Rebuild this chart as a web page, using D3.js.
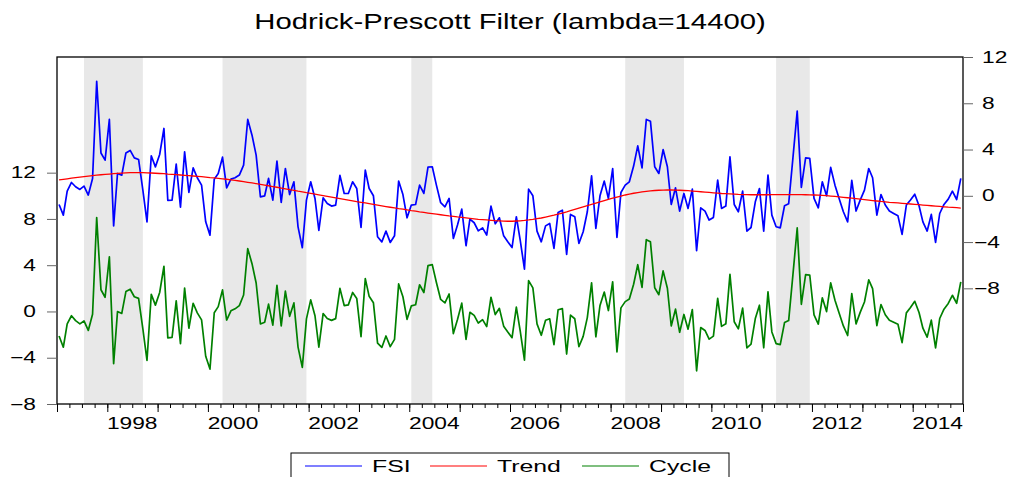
<!DOCTYPE html>
<html>
<head>
<meta charset="utf-8">
<script src="https://cdn.jsdelivr.net/npm/d3@7"></script>
<style>
  body { margin: 0; background: #fff; }
  text { font-family: "Liberation Sans", Arial, sans-serif; fill: #000; }
</style>
</head>
<body>
<svg width="1010" height="477"></svg>
<script>
// monthly observations, 1997M01 - 2014M12 (one row per year)
const fsi = [
  -0.75,-1.67,0.4,1.15,0.78,0.55,0.84,0.06,1.5,9.9,3.7,3.08,
  6.6,-2.6,1.93,1.79,3.7,3.92,3.28,3.14,0.49,-2.25,3.46,2.5,
  3.57,5.82,-0.4,-0.38,2.74,-0.98,3.8,0.29,2.42,1.56,0.92,-2.25,
  -3.4,1.44,1.93,3.34,0.69,1.44,1.56,1.79,2.65,6.6,5.24,3.51,
  -0.09,0.0,1.5,-0.38,3.0,-0.58,2.36,0.11,1.21,-2.68,-4.49,-0.37,
  1.21,-0.23,-3.0,-0.17,-0.66,-0.89,-0.8,1.76,0.2,0.2,1.21,0.63,
  -2.74,2.22,0.63,0.0,-3.54,-3.98,-3.05,-4.03,-3.46,1.27,0.11,-1.9,
  -0.8,-0.75,0.92,0.2,2.48,2.51,0.92,-0.6,-0.95,-0.23,-3.69,-2.53,
  -1.15,-4.32,-2.02,-2.33,-3.03,-2.77,-3.4,-0.89,-2.42,-1.9,-3.46,-3.98,
  -4.47,-1.81,-3.83,-6.34,0.58,0.0,-3.05,-3.98,-2.6,-2.39,-4.55,-1.44,
  -1.24,-5.07,-1.61,-1.81,-4.12,-3.11,-1.38,1.73,-2.82,0.0,1.27,-0.23,
  2.36,-3.6,0.29,0.92,1.21,2.57,4.32,2.42,6.6,6.45,2.51,1.93,
  4.0,2.51,-0.75,0.69,-1.32,0.2,-1.09,0.58,-4.75,-1.04,-1.32,-2.1,
  -1.87,1.36,-1.09,-0.89,3.37,-0.75,-1.38,0.4,-3.05,-2.74,-0.52,0.63,
  -3.05,1.79,-1.67,-2.68,-2.77,-0.86,-0.69,3.28,7.32,0.72,3.28,3.23,
  -0.23,-1.04,1.21,0.0,2.45,0.92,-0.23,-1.38,-2.25,1.33,-1.32,-0.37,
  0.49,2.36,1.56,-1.67,0.11,-0.8,-1.32,-1.53,-1.73,-3.34,-0.8,-0.37,
  0.14,-0.86,-2.25,-3.05,-1.61,-4.03,-1.53,-0.75,-0.29,0.4,-0.32,1.5
];

const trend = [
  1.37,1.42,1.47,1.52,1.57,1.62,1.66,1.70,1.74,1.78,1.82,1.85,
  1.88,1.91,1.94,1.96,1.98,2.00,2.01,2.01,2.00,1.99,1.97,1.95,
  1.93,1.91,1.88,1.86,1.83,1.80,1.77,1.74,1.71,1.68,1.65,1.62,
  1.58,1.55,1.51,1.47,1.43,1.38,1.33,1.28,1.23,1.17,1.11,1.05,
  0.99,0.93,0.87,0.80,0.74,0.67,0.60,0.53,0.47,0.40,0.34,0.27,
  0.21,0.14,0.08,0.01,-0.05,-0.12,-0.18,-0.24,-0.31,-0.37,-0.43,-0.50,
  -0.56,-0.62,-0.68,-0.75,-0.81,-0.87,-0.93,-0.99,-1.05,-1.11,-1.16,-1.22,
  -1.28,-1.33,-1.39,-1.44,-1.49,-1.54,-1.59,-1.64,-1.69,-1.74,-1.78,-1.83,
  -1.87,-1.91,-1.95,-1.99,-2.03,-2.06,-2.09,-2.12,-2.15,-2.17,-2.19,-2.20,
  -2.20,-2.18,-2.16,-2.13,-2.09,-2.04,-1.98,-1.92,-1.84,-1.76,-1.68,-1.59,
  -1.49,-1.39,-1.29,-1.18,-1.07,-0.96,-0.85,-0.74,-0.63,-0.52,-0.41,-0.31,
  -0.21,-0.11,-0.02,0.07,0.14,0.22,0.28,0.34,0.39,0.43,0.46,0.48,
  0.49,0.50,0.50,0.49,0.48,0.46,0.44,0.41,0.38,0.35,0.32,0.29,
  0.26,0.23,0.20,0.18,0.16,0.14,0.12,0.11,0.10,0.09,0.09,0.09,
  0.09,0.09,0.10,0.10,0.10,0.10,0.10,0.10,0.10,0.10,0.09,0.08,
  0.07,0.05,0.03,0.01,-0.02,-0.05,-0.09,-0.13,-0.17,-0.21,-0.25,-0.29,
  -0.33,-0.37,-0.41,-0.45,-0.49,-0.52,-0.56,-0.59,-0.62,-0.65,-0.68,-0.71,
  -0.74,-0.77,-0.80,-0.83,-0.86,-0.89,-0.92,-0.95,-0.98,-1.00,-1.03,-1.06
];

const cycle = [
  -2.12,-3.09,-1.07,-0.37,-0.79,-1.07,-0.82,-1.64,-0.24,8.12,1.88,1.23,
  4.72,-4.51,-0.01,-0.17,1.72,1.92,1.27,1.13,-1.51,-4.24,1.49,0.55,
  1.64,3.91,-2.28,-2.24,0.91,-2.78,2.03,-1.45,0.71,-0.12,-0.73,-3.87,
  -4.98,-0.11,0.42,1.87,-0.74,0.06,0.23,0.51,1.42,5.43,4.13,2.46,
  -1.08,-0.93,0.63,-1.18,2.26,-1.25,1.76,-0.42,0.74,-3.08,-4.83,-0.64,
  1.0,-0.37,-3.08,-0.18,-0.61,-0.77,-0.62,2.0,0.51,0.57,1.64,1.13,
  -2.18,2.84,1.31,0.75,-2.73,-3.11,-2.12,-3.04,-2.41,2.38,1.27,-0.68,
  0.48,0.58,2.31,1.64,3.97,4.05,2.51,1.04,0.74,1.51,-1.91,-0.70,
  0.72,-2.41,-0.07,-0.34,-1.0,-0.71,-1.31,1.23,-0.27,0.27,-1.27,-1.78,
  -2.27,0.37,-1.67,-4.21,2.67,2.04,-1.07,-2.06,-0.76,-0.63,-2.87,0.15,
  0.25,-3.68,-0.32,-0.63,-3.05,-2.15,-0.53,2.47,-2.19,0.52,1.68,0.08,
  2.57,-3.49,0.31,0.85,1.07,2.35,4.04,2.08,6.21,6.02,2.05,1.45,
  3.51,2.01,-1.25,0.20,-1.80,-0.26,-1.53,0.17,-5.13,-1.39,-1.64,-2.39,
  -2.13,1.13,-1.29,-1.07,3.21,-0.89,-1.50,0.29,-3.15,-2.83,-0.61,0.54,
  -3.14,1.70,-1.77,-2.78,-2.87,-0.96,-0.79,3.18,7.22,0.62,3.19,3.15,
  -0.30,-1.09,1.18,-0.01,2.47,0.97,-0.14,-1.25,-2.08,1.54,-1.07,-0.08,
  0.82,2.73,1.97,-1.22,0.60,-0.28,-0.76,-0.94,-1.11,-2.69,-0.12,0.34,
  0.88,-0.09,-1.45,-2.22,-0.75,-3.14,-0.61,0.20,0.69,1.40,0.71,2.56
];

// shaded periods (first and last month)
const shadeStart = ["1997-07", "2000-04", "2004-01", "2008-04", "2011-04"];
const shadeEnd   = ["1998-09", "2001-12", "2004-06", "2009-06", "2011-12"];

const leftTicks  = [-8, -4, 0, 4, 8, 12];
const rightTicks = [-8, -4, 0, 4, 8, 12];
const yearLabels = [1998, 2000, 2002, 2004, 2006, 2008, 2010, 2012, 2014];
const seriesNames  = ["FSI", "Trend", "Cycle"];
const seriesColors = ["#0000ff", "#ff0000", "#008000"];

const svg = d3.select('svg');
const plot = {left: 57, right: 963, top: 57, bottom: 404};

const months = d3.utcMonth.range(new Date(Date.UTC(1997, 0, 1)), new Date(Date.UTC(2015, 0, 1)));
const mid = d => new Date(Date.UTC(d.getUTCFullYear(), d.getUTCMonth(), 16));
const parseM = d3.utcParse('%Y-%m');

const xScale = d3.scaleUtc()
  .domain([months[0], new Date(Date.UTC(2015, 0, 1))])
  .range([plot.left, plot.right]);

// left axis -> Cycle, right axis -> FSI & Trend
const yLeft = d3.scaleLinear().domain([-8, 22]).range([plot.bottom, plot.top]);
const yRight = d3.scaleLinear().domain([-18, 12]).range([plot.bottom, plot.top]);

function stretch(sel, k) {
  sel.each(function() {
    const w = this.getComputedTextLength();
    d3.select(this).attr('textLength', w * k).attr('lengthAdjust', 'spacingAndGlyphs');
  });
}

// shading
svg.append('g').selectAll('rect').data(shadeStart)
  .enter().append('rect')
  .attr('x', (d, i) => xScale(mid(parseM(d))))
  .attr('width', (d, i) => xScale(mid(parseM(shadeEnd[i]))) - xScale(mid(parseM(d))))
  .attr('y', plot.top)
  .attr('height', plot.bottom - plot.top)
  .style('fill', '#e8e8e8');

// lines
const lineR = d3.line().x((d, i) => xScale(mid(months[i]))).y(d => yRight(d));
const lineL = d3.line().x((d, i) => xScale(mid(months[i]))).y(d => yLeft(d));

svg.append('path').datum(fsi).attr('d', lineR)
  .style('fill', 'none').style('stroke', seriesColors[0]).style('stroke-width', 1.7).style('stroke-linejoin', 'round');
svg.append('path').datum(trend).attr('d', lineR)
  .style('fill', 'none').style('stroke', seriesColors[1]).style('stroke-width', 1.3);
svg.append('path').datum(cycle).attr('d', lineL)
  .style('fill', 'none').style('stroke', seriesColors[2]).style('stroke-width', 1.7).style('stroke-linejoin', 'round');

// frame
svg.append('rect')
  .attr('x', plot.left).attr('y', plot.top)
  .attr('width', plot.right - plot.left).attr('height', plot.bottom - plot.top)
  .style('fill', 'none').style('stroke', '#000').style('stroke-width', 1.3);

// y axes
const gl = svg.append('g').attr('transform', `translate(${plot.left},0)`)
  .call(d3.axisLeft(yLeft).tickValues(leftTicks).tickSize(10).tickPadding(11).tickFormat(d3.format('d')));
const gr = svg.append('g').attr('transform', `translate(${plot.right},0)`)
  .call(d3.axisRight(yRight).tickValues(rightTicks).tickSize(10).tickPadding(9).tickFormat(d3.format('d')));
[gl, gr].forEach(g => {
  g.select('.domain').remove();
  g.selectAll('line').style('stroke', '#666');
  g.selectAll('text').style('font-size', '16px').attr('font-family', null);
  stretch(g.selectAll('text'), 1.42);
});
gr.selectAll('text').attr('x', d => d < 0 ? 11 : 19);

// x axis
const gx = svg.append('g').attr('transform', `translate(0,${plot.bottom})`);
gx.append('g')
  .call(d3.axisBottom(xScale).ticks(d3.utcMonth.every(3)).tickSize(4).tickFormat(''))
  .select('.domain').remove();
gx.append('g')
  .call(d3.axisBottom(xScale).ticks(d3.utcYear.every(1)).tickSize(8).tickFormat(''))
  .select('.domain').remove();
gx.selectAll('line').style('stroke', '#000');

const xl = gx.selectAll('text.year').data(yearLabels)
  .enter().append('text')
  .attr('class', 'year')
  .attr('x', d => xScale(new Date(Date.UTC(d, 6, 1))))
  .attr('y', 25)
  .attr('text-anchor', 'middle')
  .style('font-size', '16px')
  .text(d => d);
stretch(xl, 1.42);

// title
const title = svg.append('text')
  .attr('x', 510).attr('y', 29)
  .attr('text-anchor', 'middle')
  .style('font-size', '22px')
  .text('Hodrick-Prescott Filter (lambda=14400)');
stretch(title, 1.33);

// legend
const lg = svg.append('g').attr('transform', 'translate(291,453)');
lg.append('rect').attr('x', 0).attr('y', 0).attr('width', 438).attr('height', 40)
  .style('fill', '#fff').style('stroke', '#000').style('stroke-width', 1);
const itemX = [14, 139, 291];
const items = lg.selectAll('g.item').data(seriesNames)
  .enter().append('g').attr('class', 'item')
  .attr('transform', (d, i) => `translate(${itemX[i]},13)`);
items.append('line').attr('x1', 0).attr('x2', 57).attr('y1', 0).attr('y2', 0)
  .style('stroke', (d, i) => seriesColors[i]).style('stroke-width', 1.2);
const lt = items.append('text').attr('x', 67).attr('y', 6)
  .style('font-size', '16px').text(d => d);
stretch(lt, 1.55);
</script>
</body>
</html>
